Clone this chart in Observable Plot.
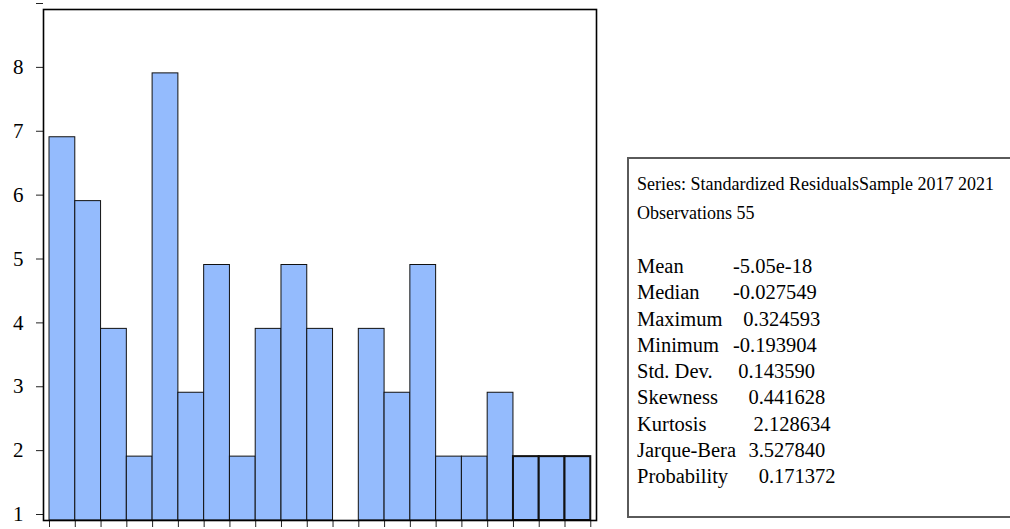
<!DOCTYPE html>
<html><head><meta charset="utf-8">
<script src="https://cdn.jsdelivr.net/npm/d3@7"></script>
<script src="https://cdn.jsdelivr.net/npm/@observablehq/plot@0.6"></script>
<style>
html,body{margin:0;padding:0;background:#fff;}
body{width:1010px;height:529px;overflow:hidden;position:relative;font-family:"Liberation Serif","Times New Roman",serif;color:#000;}
#chart{position:absolute;left:0;top:0;}
#stats{position:absolute;left:627px;top:157px;width:420px;height:361px;border:2px solid #5a5a5a;border-right:none;box-sizing:border-box;}
#head{position:absolute;left:8px;top:11px;font-size:18px;line-height:29px;white-space:pre;}
#rows{position:absolute;left:8px;top:94px;font-size:20.5px;line-height:26.3px;white-space:pre;}
.row{display:flex;}
.lab{width:96px;min-width:0;flex:none;white-space:pre;}
</style>
</head><body>
<div id="chart"></div>
<div id="stats"><div id="head"></div><div id="rows"></div></div>
<script>
// Histogram of standardized residuals (bin edges, heights as read on the axis)
const binEdges = [-0.200,-0.175,-0.150,-0.125,-0.100,-0.075,-0.050,-0.025,0.000,0.025,0.050,
                  0.075,0.100,0.125,0.150,0.175,0.200,0.225,0.250,0.275,0.300,0.325];
const counts = [7,6,4,2,8,3,5,2,4,5,4,1,4,3,5,2,2,3,2,2,2];
const yTicks = [1,2,3,4,5,6,7,8,9];
const yTickLabels = ["1","2","3","4","5","6","7","8",""];

// Statistics panel
const headerLines = ["Series: Standardized ResidualsSample 2017 2021", "Observations 55"];
const statLabels = ["Mean","Median","Maximum","Minimum","Std. Dev.","Skewness","Kurtosis","Jarque-Bera","Probability"];
const statValues = ["-5.05e-18","-0.027549","  0.324593","-0.193904"," 0.143590","   0.441628","    2.128634","   3.527840","     0.171372"];

const bins = counts.map((c, i) => ({x1: binEdges[i], x2: binEdges[i + 1], count: c, last: i >= 18}))
  .filter(d => d.count > 1);

const chart = Plot.plot({
  width: 602, height: 529,
  marginLeft: 43, marginRight: 6, marginTop: 9, marginBottom: 9,
  style: {fontFamily: "'Liberation Serif', 'Times New Roman', serif", fontSize: "21px", background: "transparent"},
  x: {domain: [-0.20583, 0.33055]},
  y: {domain: [1, 9]},
  marks: [
    Plot.rect(bins, {x1: "x1", x2: "x2", y1: 1, y2: "count", fill: "#94bbfd", stroke: "#111",
      strokeWidth: d => d.last ? 2 : 1}),
    Plot.axisY({ticks: yTicks, tickFormat: (d, i) => yTickLabels[yTicks.indexOf(d)], tickSize: 7, tickPadding: 13,
      fontSize: 21, dy: -6, stroke: "#222", label: null}),
    Plot.axisX({ticks: binEdges, tickSize: 7, tickFormat: () => "", stroke: "#222", label: null}),
    Plot.frame({stroke: "#000", strokeWidth: 1.6})
  ]
});
document.getElementById("chart").appendChild(chart);

const head = document.getElementById("head");
headerLines.forEach(t => { const d = document.createElement("div"); d.textContent = t; head.appendChild(d); });
const rows = document.getElementById("rows");
statLabels.forEach((l, i) => {
  const r = document.createElement("div"); r.className = "row";
  const a = document.createElement("span"); a.className = "lab"; a.textContent = l;
  const b = document.createElement("span"); b.textContent = statValues[i];
  r.appendChild(a); r.appendChild(b); rows.appendChild(r);
});
</script>
</body></html>
